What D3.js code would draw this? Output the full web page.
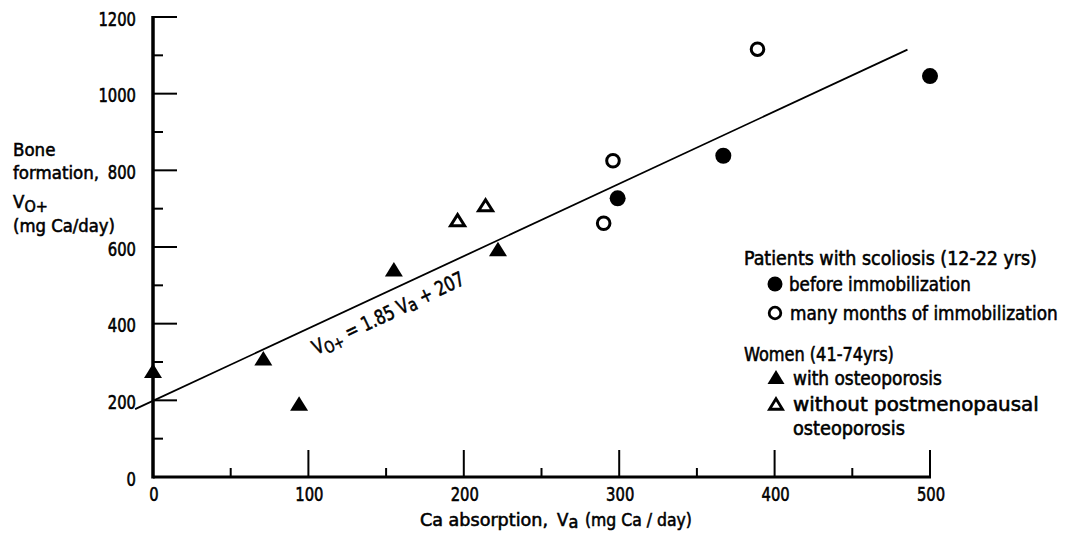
<!DOCTYPE html>
<html>
<head>
<meta charset="utf-8">
<script src="https://cdn.jsdelivr.net/npm/d3@7/dist/d3.min.js"></script>
<style>
  html, body { margin: 0; padding: 0; background: #fff; }
  svg { display: block; }
  text { font-family: "DejaVu Sans Condensed", "DejaVu Sans", sans-serif; font-stretch: condensed; fill: #000; stroke: #000; stroke-width: 0.55px; }
</style>
</head>
<body>
<svg id="chart" width="1065" height="533"></svg>
<script>
// ---- data ----
const xTicksMajor = [100, 200, 300, 400, 500];
const xTicksMinor = [50, 150, 250, 350, 450];
const xTickLabels = ["0", "100", "200", "300", "400", "500"];
const xTickLabelValues = [0, 100, 200, 300, 400, 500];
const yTicksMajor = [200, 400, 600, 800, 1000, 1200];
const yTicksMinor = [100, 300, 500, 700, 900, 1100];
const yTickLabelValues = [0, 200, 400, 600, 800, 1000, 1200];

// Women (41-74 yrs) with osteoporosis  [Va, Vo+]
const osteoFilledTri = [[0, 277], [71, 310], [94, 192], [155, 542], [222, 595]];
// Women without postmenopausal osteoporosis
const noOsteoOpenTri = [[196, 670], [214, 709]];
// Scoliosis patients before immobilization
const beforeFilledCircle = [[299, 727], [367, 838], [500, 1046]];
// Scoliosis patients after many months of immobilization
const immobOpenCircle = [[290, 662], [296, 825], [389, 1116]];
// Regression line Vo+ = 1.85 Va + 207 (drawn endpoints)
const regressionLine = [[-11.5, 177], [485.5, 1115]];

const legendGroups = ["Patients with scoliosis (12-22 yrs)", "Women (41-74yrs)"];
const legendItems = ["before immobilization", "many months of immobilization",
                     "with osteoporosis", "without postmenopausal", "osteoporosis"];

// ---- drawing ----
const svg = d3.select("#chart");
const x = d3.scaleLinear().domain([0, 500]).range([153, 930]);
const y = d3.scaleLinear().domain([0, 1200]).range([477, 17]);

// axes lines
svg.append("line").attr("x1", x(0)).attr("x2", x(0)).attr("y1", y(0) + 1.5).attr("y2", y(1200) - 1)
  .attr("stroke", "#000").attr("stroke-width", 3.5);
svg.append("line").attr("x1", x(0)).attr("x2", x(500) + 1).attr("y1", y(0)).attr("y2", y(0))
  .attr("stroke", "#000").attr("stroke-width", 3);

// y ticks
svg.selectAll(".ytM").data(yTicksMajor).enter().append("line")
  .attr("x1", x(0)).attr("x2", x(0) + 24).attr("y1", d => y(d)).attr("y2", d => y(d))
  .attr("stroke", "#000").attr("stroke-width", 2);
svg.selectAll(".ytm").data(yTicksMinor).enter().append("line")
  .attr("x1", x(0)).attr("x2", x(0) + 10).attr("y1", d => y(d)).attr("y2", d => y(d))
  .attr("stroke", "#000").attr("stroke-width", 2);
// x ticks (upward)
svg.selectAll(".xtM").data(xTicksMajor).enter().append("line")
  .attr("x1", d => x(d)).attr("x2", d => x(d)).attr("y1", y(0)).attr("y2", y(0) - 27)
  .attr("stroke", "#000").attr("stroke-width", 2);
svg.selectAll(".xtm").data(xTicksMinor).enter().append("line")
  .attr("x1", d => x(d)).attr("x2", d => x(d)).attr("y1", y(0)).attr("y2", y(0) - 9)
  .attr("stroke", "#000").attr("stroke-width", 2);

// tick labels
svg.selectAll(".xl").data(xTickLabelValues).enter().append("text")
  .attr("x", d => x(d) + 1).attr("y", y(0) + 24)
  .attr("text-anchor", "middle").attr("font-size", 19)
  .attr("textLength", (d, i) => xTickLabels[i].length * 9.4)
  .attr("lengthAdjust", "spacingAndGlyphs")
  .text((d, i) => xTickLabels[i]);
svg.selectAll(".yl").data(yTickLabelValues).enter().append("text")
  .attr("x", x(0) - 17).attr("y", d => y(d) + 8.5)
  .attr("text-anchor", "end").attr("font-size", 19)
  .attr("textLength", d => String(d).length * 9.4)
  .attr("lengthAdjust", "spacingAndGlyphs")
  .text(d => d);

// regression line
svg.append("path").datum(regressionLine)
  .attr("d", d3.line().x(d => x(d[0])).y(d => y(d[1])))
  .attr("fill", "none").attr("stroke", "#000").attr("stroke-width", 1.8);

// equation label
const eq = svg.append("text").attr("font-size", 20)
  .attr("textLength", 166).attr("lengthAdjust", "spacingAndGlyphs")
  .attr("transform", `translate(${x(105)},${y(318)}) rotate(-25.5)`);
eq.append("tspan").text("V");
eq.append("tspan").attr("font-size", 16).attr("dy", 4).text("O+");
eq.append("tspan").attr("dy", -4).text(" = 1.85 V");
eq.append("tspan").attr("font-size", 18).attr("dy", 2).text("a");
eq.append("tspan").attr("dy", -2).text(" + 207");

// marker shapes
function triPath(w, h) {
  return `M0,${-h / 2}L${w / 2},${h / 2}L${-w / 2},${h / 2}Z`;
}
svg.selectAll(".ft").data(osteoFilledTri).enter().append("path")
  .attr("d", triPath(18, 14.5))
  .attr("transform", d => `translate(${x(d[0])},${y(d[1])})`)
  .attr("fill", "#000");
svg.selectAll(".ot").data(noOsteoOpenTri).enter().append("path")
  .attr("d", triPath(14, 11))
  .attr("transform", d => `translate(${x(d[0])},${y(d[1])})`)
  .attr("fill", "#fff").attr("stroke", "#000").attr("stroke-width", 3).attr("stroke-linejoin", "miter");
svg.selectAll(".fc").data(beforeFilledCircle).enter().append("circle")
  .attr("cx", d => x(d[0])).attr("cy", d => y(d[1])).attr("r", 8).attr("fill", "#000");
svg.selectAll(".oc").data(immobOpenCircle).enter().append("circle")
  .attr("cx", d => x(d[0])).attr("cy", d => y(d[1])).attr("r", 6.3)
  .attr("fill", "#fff").attr("stroke", "#000").attr("stroke-width", 3);

// y axis title
const yt = svg.append("g").attr("font-size", 18.5);
yt.append("text").attr("x", 13).attr("y", 156).text("Bone");
yt.append("text").attr("x", 13).attr("y", 178.5).attr("textLength", 86).attr("lengthAdjust", "spacingAndGlyphs").text("formation,");
const vo = yt.append("text").attr("x", 13).attr("y", 208);
vo.append("tspan").text("V");
vo.append("tspan").attr("font-size", 16).attr("dy", 4).text("O+");
yt.append("text").attr("x", 13).attr("y", 232).attr("textLength", 102).attr("lengthAdjust", "spacingAndGlyphs").text("(mg Ca/day)");

// x axis title
const xt = svg.append("g").attr("font-size", 18.5);
xt.append("text").attr("x", 420).attr("y", 526).attr("textLength", 128).attr("lengthAdjust", "spacingAndGlyphs").text("Ca absorption,");
const va = xt.append("text").attr("x", 557).attr("y", 526);
va.append("tspan").text("V");
va.append("tspan").attr("font-size", 18).attr("dy", 2).text("a");
xt.append("text").attr("x", 585).attr("y", 526).attr("textLength", 107).attr("lengthAdjust", "spacingAndGlyphs").text("(mg Ca / day)");

const lg = svg.append("g");
function fitText(str, tx, ty, width, size) {
  const t = lg.append("text").attr("font-size", size).text(str);
  const w = t.node().getComputedTextLength();
  t.attr("transform", `translate(${tx},${ty}) scale(${width / w},1)`);
  return t;
}
const lgTitleX = 744, lgItemX = 789, lgMarkX = 775;
fitText(legendGroups[0], lgTitleX, 265, 293, 19.5);
lg.append("circle").attr("cx", lgMarkX).attr("cy", 284).attr("r", 7.5).attr("fill", "#000");
fitText(legendItems[0], lgItemX, 291, 182, 19.5);
lg.append("circle").attr("cx", lgMarkX).attr("cy", 313).attr("r", 5.8).attr("fill", "#fff").attr("stroke", "#000").attr("stroke-width", 2.8);
fitText(legendItems[1], lgItemX + 1, 320, 268, 19.5);
fitText(legendGroups[1], lgTitleX, 361, 150, 19.5);
lg.append("path").attr("d", triPath(17, 14)).attr("transform", `translate(${lgMarkX + 1},377)`).attr("fill", "#000");
fitText(legendItems[2], lgItemX + 4, 385, 149, 19.5);
lg.append("path").attr("d", triPath(13, 10.5)).attr("transform", `translate(${lgMarkX + 1},404)`)
  .attr("fill", "#fff").attr("stroke", "#000").attr("stroke-width", 2.8);
fitText(legendItems[3], lgItemX + 4, 411, 246, 19.5);
fitText(legendItems[4], lgItemX + 4, 435, 112, 19.5);
</script>
</body>
</html>
